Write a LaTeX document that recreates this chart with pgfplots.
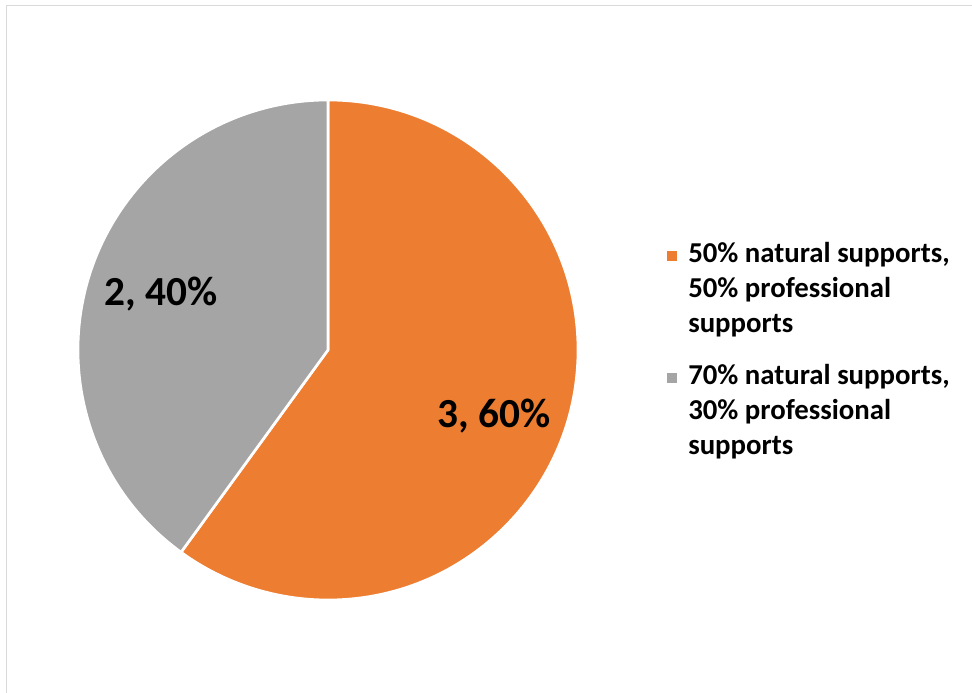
\documentclass[border=0pt]{standalone}
\usepackage{pgfplots}
\pgfplotsset{compat=1.18}
\usepackage{fontspec}
\setmainfont{Carlito}
\definecolor{pieorange}{HTML}{ED7D31}
\definecolor{piegray}{HTML}{A5A5A5}
\definecolor{framegray}{HTML}{D9D9D9}
\begin{document}
\begin{tikzpicture}
% data: counts of each category
\def\valA{3}
\def\valB{2}
\pgfmathsetmacro\angA{90-360*\valA/(\valA+\valB)}
\pgfmathsetmacro\angB{\angA-360*\valB/(\valA+\valB)}
\begin{axis}[scale only axis, width=729pt, height=519.75pt,
  xmin=0, xmax=972, ymin=0, ymax=693, hide axis, clip=true]
\addplot[draw=none] coordinates {(0,0) (972,693)};
\draw[framegray, line width=1.3pt] (axis cs:6.5,687.5) rectangle (axis cs:1010,-20);
\filldraw[fill=pieorange, draw=white, line width=2pt, line join=round]
  (axis cs:328,343) -- ++(90:187.5pt) arc[start angle=90, end angle=\angA, radius=187.5pt] -- cycle;
\filldraw[fill=piegray, draw=white, line width=2pt, line join=round]
  (axis cs:328,343) -- ++(\angA:187.5pt) arc[start angle=\angA, end angle=\angB, radius=187.5pt] -- cycle;
\node[anchor=base west, inner sep=0pt, font=\fontsize{31}{37}\selectfont\bfseries] at (axis cs:437,265) {3, 60\%};
\node[anchor=base west, inner sep=0pt, font=\fontsize{31}{37}\selectfont\bfseries] at (axis cs:104,387) {2, 40\%};
\fill[pieorange] (axis cs:667,432) rectangle (axis cs:677,442);
\fill[piegray] (axis cs:667,310) rectangle (axis cs:677,320);
\begin{scope}[every node/.style={anchor=base west, inner sep=0pt, font=\fontsize{21.6}{26}\selectfont\bfseries}]
\node at (axis cs:688,430) {50\% natural supports,};
\node at (axis cs:688,395) {50\% professional};
\node at (axis cs:688,360) {supports};
\node at (axis cs:688,308) {70\% natural supports,};
\node at (axis cs:688,273) {30\% professional};
\node at (axis cs:688,238) {supports};
\end{scope}
\end{axis}
\end{tikzpicture}
\end{document}
